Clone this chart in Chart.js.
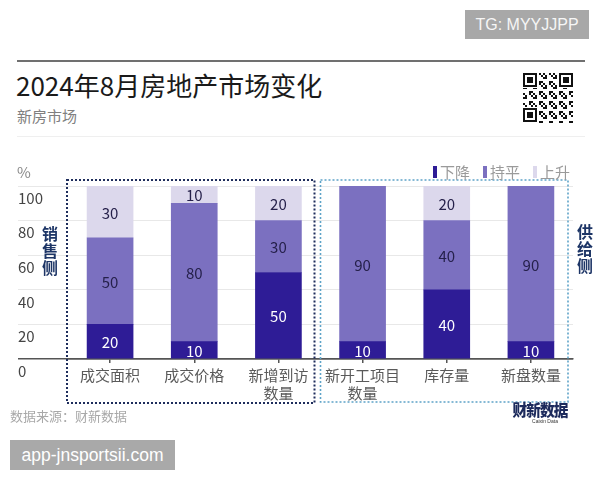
<!DOCTYPE html>
<html>
<head>
<meta charset="utf-8">
<script src="https://cdn.jsdelivr.net/npm/chart.js@4/dist/chart.umd.min.js"></script>
<style>
  html, body { margin: 0; padding: 0; background: #fff; }
  #wrap { position: relative; width: 600px; height: 480px; overflow: hidden; background: #fff;
          font-family: "Noto Sans CJK SC", "Noto Sans", sans-serif; }
  #chart { position: absolute; left: 0; top: 0; }
  .abs { position: absolute; white-space: nowrap; }
</style>
</head>
<body>
<div id="wrap">
  <div class="abs" style="left:465px;top:10px;width:124px;height:29px;background:#a8a8a8;color:#f6f6f6;font:16px 'Liberation Sans',Arial,sans-serif;line-height:29px;text-align:center;">TG: MYYJJPP</div>
  <div class="abs" style="left:17px;top:60px;width:568px;height:2px;background:#707070;"></div>
  <div class="abs" style="left:16px;top:71px;font-size:26px;line-height:28px;color:#1a1a1a;">2024年8月房地产市场变化</div>
  <div class="abs" style="left:17px;top:107px;font-size:15px;line-height:18px;color:#808080;">新房市场</div>
  <div class="abs" style="left:17px;top:136px;width:568px;height:1px;background:#efefef;"></div>
  <canvas id="qr" class="abs" width="52" height="51" style="left:522px;top:72px;"></canvas>
  <canvas id="chart" width="600" height="480"></canvas>
  <div class="abs" style="left:10px;top:408px;font-size:13px;line-height:16px;color:#a8a8a8;">数据来源：财新数据</div>
  <div class="abs" style="left:510px;top:400px;width:60px;text-align:center;">
    <div style="font-size:16px;font-weight:900;color:#1c2a5c;line-height:18px;letter-spacing:-1px;transform:scaleX(0.92);">财新数据</div>
    <div style="font:5px 'Liberation Sans',Arial,sans-serif;color:#333;line-height:6px;margin-left:10px;">Caixin Data</div>
  </div>
  <div class="abs" style="left:10px;top:440px;width:165px;height:30px;background:#a9a9a9;color:#fff;font:17.5px 'Liberation Sans',Arial,sans-serif;line-height:30px;text-align:center;">app-jnsportsii.com</div>
</div>
<script>
// ---- data ----
const categories = [['成交面积'], ['成交价格'], ['新增到访', '数量'], ['新开工项目', '数量'], ['库存量'], ['新盘数量']];
const seriesNames = ['下降', '持平', '上升'];
const declineValues = [20, 10, 50, 10, 40, 10];
const flatValues = [50, 80, 30, 90, 40, 90];
const riseValues = [30, 10, 20, 0, 20, 0];
const yTickValues = [0, 20, 40, 60, 80, 100];
const groupNames = ['销售侧', '供给侧'];

// ---- decorative QR-like mark ----
(function () {
  const c = document.getElementById('qr').getContext('2d');
  const n = 25, s = 2;
  c.fillStyle = '#fff'; c.fillRect(0, 0, 52, 51);
  c.fillStyle = '#111';
  for (let i = 0; i < n; i++) for (let j = 0; j < n; j++) {
    if (((i * 7 + j * 13 + i * j) % 5) < 2) c.fillRect(1 + i * s, 1 + j * s, s, s);
  }
  function finder(x, y) {
    c.fillStyle = '#fff'; c.fillRect(x - 1, y - 1, 16, 16);
    c.fillStyle = '#111'; c.fillRect(x, y, 14, 14);
    c.fillStyle = '#fff'; c.fillRect(x + 2, y + 2, 10, 10);
    c.fillStyle = '#111'; c.fillRect(x + 4, y + 4, 6, 6);
  }
  finder(1, 1); finder(37, 1); finder(1, 36);
})();

const colors = ['#2e1c96', '#7b70c0', '#dcd8ec'];
const labelColors = ['#ffffff', '#25204a', '#25204a'];

const overlayPlugin = {
  id: 'overlay',
  afterDatasetsDraw(chart) {
    const ctx = chart.ctx;
    const area = chart.chartArea;
    const xs = chart.scales.x;
    // value labels
    ctx.save();
    ctx.font = '15px "Noto Sans CJK SC", "Noto Sans", sans-serif';
    ctx.textAlign = 'center';
    ctx.textBaseline = 'middle';
    chart.data.datasets.forEach((ds, di) => {
      const meta = chart.getDatasetMeta(di);
      meta.data.forEach((el, i) => {
        const v = ds.data[i];
        if (!v) return;
        ctx.fillStyle = labelColors[di];
        ctx.fillText(String(v), el.x, (el.y + el.base) / 2 + 1);
      });
    });
    ctx.restore();
  },
  afterDraw(chart) {
    const ctx = chart.ctx;
    const area = chart.chartArea;
    const xs = chart.scales.x;
    const half = (xs.getPixelForValue(1) - xs.getPixelForValue(0)) / 2;
    const boundary = xs.getPixelForValue(2) + half;
    ctx.save();
    // dotted boxes
    ctx.setLineDash([2, 2]);
    ctx.lineWidth = 2;
    ctx.strokeStyle = '#1e2d5c';
    ctx.strokeRect(area.left - 1, area.top - 6, boundary - 6 - (area.left - 1), 223);
    ctx.lineWidth = 1.6;
    ctx.strokeStyle = '#5ea3c8';
    ctx.strokeRect(boundary, area.top - 6, area.right - 5 - boundary, 222);
    ctx.setLineDash([]);
    // % label
    ctx.font = '15px "Noto Sans CJK SC", "Noto Sans", sans-serif';
    ctx.fillStyle = '#888';
    ctx.textAlign = 'left';
    ctx.textBaseline = 'middle';
    ctx.fillText('%', 17, area.top - 14);
    // legend
    let lx = area.right - 140;
    chart.data.datasets.forEach((ds) => {
      ctx.fillStyle = ds.backgroundColor;
      ctx.fillRect(lx, area.top - 20, 4, 12);
      ctx.fillStyle = '#9a9a9a';
      ctx.font = '15px "Noto Sans CJK SC", "Noto Sans", sans-serif';
      ctx.fillText(ds.label, lx + 7, area.top - 14);
      lx += 50;
    });
    // side labels
    ctx.font = 'bold 16px "Noto Sans CJK SC", "Noto Sans", sans-serif';
    ctx.fillStyle = '#1d3566';
    ctx.textAlign = 'center';
    const g1 = groupNames[0].split(''), g2 = groupNames[1].split('');
    g1.forEach((ch, k) => ctx.fillText(ch, area.left - 18, area.top + 48 + k * 17));
    g2.forEach((ch, k) => ctx.fillText(ch, area.right + 12, area.top + 46 + k * 17));
    ctx.restore();
  }
};

const datasets = [declineValues, flatValues, riseValues].map((vals, i) => ({
  label: seriesNames[i],
  data: vals,
  backgroundColor: colors[i],
  borderWidth: 0,
  barThickness: 46,
  stack: 's'
}));

new Chart(document.getElementById('chart'), {
  type: 'bar',
  data: { labels: categories, datasets },
  plugins: [overlayPlugin],
  options: {
    responsive: false,
    maintainAspectRatio: false,
    animation: false,
    layout: { padding: { top: 186, left: 18, right: 27, bottom: 0 } },
    plugins: { legend: { display: false }, tooltip: { enabled: false } },
    scales: {
      x: {
        stacked: true,
        afterFit(scale) { scale.height = 121; },
        grid: { drawOnChartArea: false, offset: false, tickLength: 4, color: '#555', lineWidth: 1.5 },
        border: { display: true, color: '#555', width: 1.5 },
        ticks: {
          autoSkip: false, maxRotation: 0, padding: 3, color: '#5a5a5a',
          font: { family: '"Noto Sans CJK SC", "Noto Sans", sans-serif', size: 15, lineHeight: 1.2 }
        }
      },
      y: {
        stacked: true,
        min: 0, max: 100,
        afterFit(scale) { scale.width = 50; },
        afterBuildTicks(scale) { scale.ticks = yTickValues.map(v => ({ value: v })); },
        border: { display: false },
        grid: {
          tickLength: 50,
          color: (c) => (c.tick && c.tick.value === 0 ? '#555' : '#e8e8e8'),
          lineWidth: (c) => (c.tick && c.tick.value === 0 ? 1.5 : 1)
        },
        ticks: {
          crossAlign: 'far', labelOffset: 12, padding: 0, color: '#444',
          font: { family: '"Noto Sans CJK SC", "Noto Sans", sans-serif', size: 15 }
        }
      }
    }
  }
});
</script>
</body>
</html>
